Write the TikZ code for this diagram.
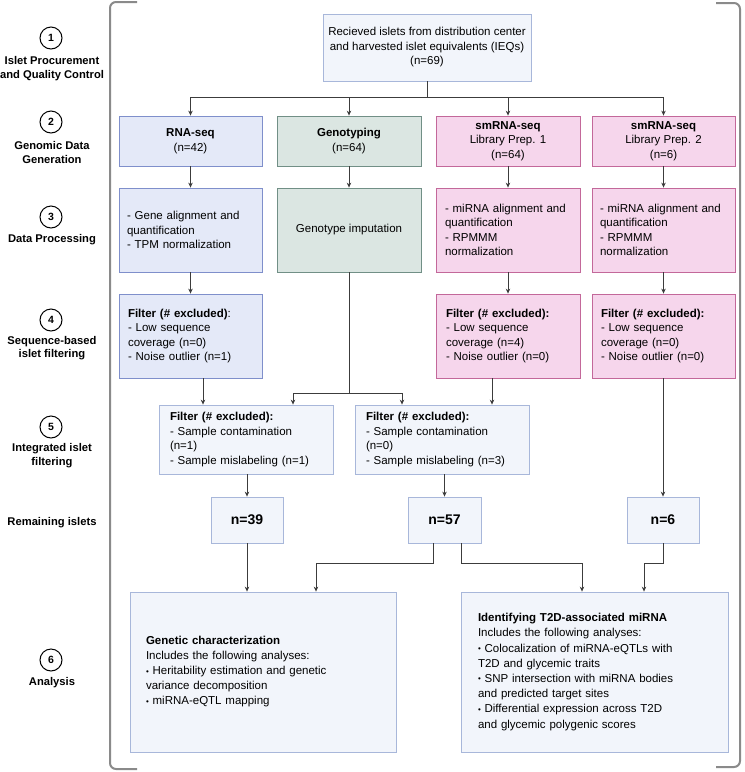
\documentclass[tikz,border=0pt]{standalone}
\usepackage{fontspec}
\setmainfont{Liberation Sans}
\usetikzlibrary{arrows.meta}

\definecolor{paleblue}{HTML}{F2F5FB}
\definecolor{palebluedraw}{HTML}{A8B7DA}
\definecolor{rnafill}{HTML}{E4E9F8}
\definecolor{rnadraw}{HTML}{7F8FCB}
\definecolor{genofill}{HTML}{DBE6E2}
\definecolor{genodraw}{HTML}{718F86}
\definecolor{smfill}{HTML}{F6D6EC}
\definecolor{smdraw}{HTML}{C3689A}
\definecolor{flowline}{HTML}{3C3C3C}
\definecolor{bracketgray}{HTML}{8A8A8A}

\newcommand{\smallbul}{{\fontsize{8}{8}\selectfont\raisebox{0.6pt}{•}}}

\tikzset{
  flow/.style={draw=flowline, line width=0.9pt},
  flowarrow/.style={flow, -{Stealth[length=5pt,width=4.5pt]}},
  box/.style={rectangle, line width=0.8pt, inner sep=0pt, align=center,
    font=\fontsize{11.5}{14.5}\selectfont},
  qcbox/.style={box, draw=palebluedraw, fill=paleblue},
  rnabox/.style={box, draw=rnadraw, fill=rnafill},
  genobox/.style={box, draw=genodraw, fill=genofill},
  smbox/.style={box, draw=smdraw, fill=smfill},
  countbox/.style={qcbox, font=\fontsize{14}{16}\selectfont\bfseries},
  stepnum/.style={circle, draw=black, line width=1pt, minimum size=22pt,
    inner sep=0pt, font=\fontsize{10.5}{12}\selectfont\bfseries},
  steptext/.style={align=center, font=\fontsize{11.2}{13.5}\selectfont\bfseries},
  bracketline/.style={draw=bracketgray, line width=2pt, rounded corners=6pt}
}

\begin{document}
\begin{tikzpicture}[x=1pt,y=-1pt]
  \useasboundingbox (0,0) rectangle (745,772);

  % outer brackets
  \draw[bracketline] (137,2) -| (110,769) -- (137,769);
  \draw[bracketline] (716,3) -| (740,767) -- (716,767);

  % step labels
  \node[stepnum] (s1) at (51,38) {1};
  \node[steptext] (t1) at (52,68.5) {Islet Procurement\\and Quality Control};
  \node[stepnum] (s2) at (51,122) {2};
  \node[steptext] (t2) at (52,152.5) {Genomic Data\\Generation};
  \node[stepnum] (s3) at (51,217) {3};
  \node[steptext] (t3) at (52,240) {Data Processing};
  \node[stepnum] (s4) at (51,320) {4};
  \node[steptext] (t4) at (52,348) {Sequence-based\\islet filtering};
  \node[stepnum] (s5) at (51,427) {5};
  \node[steptext] (t5) at (52,455.5) {Integrated islet\\filtering};
  \node[steptext] (t7) at (52,523) {Remaining islets};
  \node[stepnum] (s6) at (51,660) {6};
  \node[steptext] (t6) at (52,683) {Analysis};

  % procurement
  \node[qcbox, minimum width=208, minimum height=67] (recv) at (427,47.5)
    {Recieved islets from distribution center\\and harvested islet equivalents (IEQs)\\(n=69)};

  % data generation
  \node[rnabox, minimum width=143, minimum height=50] (rna) at (190.5,141)
    {\textbf{RNA-seq}\\(n=42)};
  \node[genobox, minimum width=144, minimum height=50] (geno) at (349,141)
    {\textbf{Genotyping}\\(n=64)};
  \node[smbox, minimum width=144, minimum height=50] (smA) at (508,141)
    {\textbf{smRNA-seq}\\Library Prep. 1\\(n=64)};
  \node[smbox, minimum width=143, minimum height=50] (smB) at (663.5,141)
    {\textbf{smRNA-seq}\\Library Prep. 2\\(n=6)};

  % processing
  \node[rnabox, align=left, text width=127, minimum width=143, minimum height=84] (rnaproc) at (190.5,230)
    {- Gene alignment and\\quantification\\- TPM normalization};
  \node[genobox, minimum width=144, minimum height=84] (genoproc) at (349,230)
    {Genotype imputation};
  \node[smbox, align=left, text width=126, minimum width=144, minimum height=84] (smAproc) at (508,230)
    {- miRNA alignment and\\quantification\\- RPMMM\\normalization};
  \node[smbox, align=left, text width=127, minimum width=143, minimum height=84] (smBproc) at (663.5,230)
    {- miRNA alignment and\\quantification\\- RPMMM\\normalization};

  % sequence-based filtering
  \node[rnabox, align=left, text width=125, minimum width=143, minimum height=84] (rnafilt) at (190.5,336)
    {\textbf{Filter (\# excluded)}:\\- Low sequence\\coverage (n=0)\\- Noise outlier (n=1)};
  \node[smbox, align=left, text width=124, minimum width=144, minimum height=84] (smAfilt) at (508,336)
    {\textbf{Filter (\# excluded):}\\- Low sequence\\coverage (n=4)\\- Noise outlier (n=0)};
  \node[smbox, align=left, text width=125, minimum width=143, minimum height=84] (smBfilt) at (663.5,336)
    {\textbf{Filter (\# excluded):}\\- Low sequence\\coverage (n=0)\\- Noise outlier (n=0)};

  % integrated filtering
  \node[qcbox, align=left, text width=152, minimum width=174, minimum height=69] (intA) at (246,439.5)
    {\textbf{Filter (\# excluded):}\\- Sample contamination\\(n=1)\\- Sample mislabeling (n=1)};
  \node[qcbox, align=left, text width=152, minimum width=174, minimum height=69] (intB) at (442,439.5)
    {\textbf{Filter (\# excluded):}\\- Sample contamination\\(n=0)\\- Sample mislabeling (n=3)};

  % remaining islets
  \node[countbox, minimum width=72, minimum height=46] (n39) at (247,520) {n=39};
  \node[countbox, minimum width=73, minimum height=46] (n57) at (444.5,520) {n=57};
  \node[countbox, minimum width=72, minimum height=46] (n6) at (663,520) {n=6};

  % analysis
  \node[qcbox, align=left, text width=234, minimum width=266, minimum height=160,
    font=\fontsize{11.5}{15}\selectfont] (gen) at (263,672)
    {\textbf{Genetic characterization}\\Includes the following analyses:\\
     \smallbul{} Heritability estimation and genetic\\variance decomposition\\
     \smallbul{} miRNA-eQTL mapping};
  \node[qcbox, align=left, text width=233, minimum width=267, minimum height=160,
    font=\fontsize{11.5}{15.2}\selectfont] (iden) at (594.5,672)
    {\textbf{Identifying T2D-associated miRNA}\\Includes the following analyses:\\
     \smallbul{} Colocalization of miRNA-eQTLs with\\T2D and glycemic traits\\
     \smallbul{} SNP intersection with miRNA bodies\\and predicted target sites\\
     \smallbul{} Differential expression across T2D\\and glycemic polygenic scores};

  % junctions
  \coordinate (split1) at (427,97);
  \coordinate (split2) at (349,393);
  \coordinate (turnL) at (316,563);
  \coordinate (turnR) at (582,563);
  \coordinate (turn6) at (644,563);

  % connectors
  \draw[flow] (recv.south) -- (split1);
  \draw[flowarrow] (split1) -| (rna.north);
  \draw[flowarrow] (split1) -| (geno.north);
  \draw[flowarrow] (split1) -| (smA.north);
  \draw[flowarrow] (split1) -| (smB.north);

  \draw[flowarrow] (rna) -- (rnaproc);
  \draw[flowarrow] (geno) -- (genoproc);
  \draw[flowarrow] (smA) -- (smAproc);
  \draw[flowarrow] (smB) -- (smBproc);

  \draw[flowarrow] (rnaproc) -- (rnafilt);
  \draw[flowarrow] (smAproc) -- (smAfilt);
  \draw[flowarrow] (smBproc) -- (smBfilt);

  \draw[flowarrow] ([xshift=12.5pt]rnafilt.south) -- ([xshift=12.5pt]rnafilt.south |- intA.north);
  \draw[flow] (genoproc.south) -- (split2);
  \draw[flowarrow] (split2) -| ([xshift=47pt]intA.north);
  \draw[flowarrow] (split2) -| ([xshift=-40pt]intB.north);
  \draw[flowarrow] ([xshift=-16pt]smAfilt.south) -- ([xshift=-16pt]smAfilt.south |- intB.north);

  \draw[flowarrow] (intA.south -| n39.north) -- (n39.north);
  \draw[flowarrow] (intB.south -| n57.north) -- (n57.north);
  \draw[flowarrow] (smBfilt.south -| n6.north) -- (n6.north);

  \draw[flowarrow] (n39.south) -- (n39.south |- gen.north);
  \draw[flowarrow] ([xshift=-11.5pt]n57.south) |- (turnL) -- (turnL |- gen.north);
  \draw[flowarrow] ([xshift=16.5pt]n57.south) |- (turnR) -- (turnR |- iden.north);
  \draw[flowarrow] (n6.south) |- (turn6) -- (turn6 |- iden.north);
\end{tikzpicture}
\end{document}
